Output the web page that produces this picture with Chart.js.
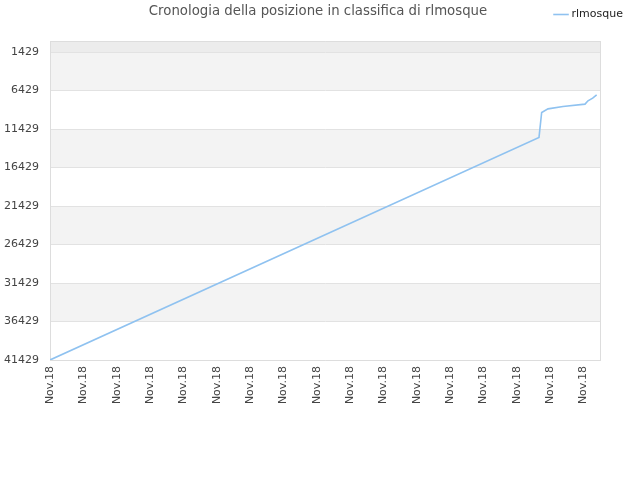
<!DOCTYPE html>
<html>
<head>
<meta charset="utf-8">
<script src="https://cdn.jsdelivr.net/npm/chart.js@4/dist/chart.umd.min.js"></script>
<style>
  html, body { margin: 0; padding: 0; background: #fff; }
  #wrap { width: 640px; height: 480px; }
</style>
</head>
<body>
<div id="wrap"><canvas id="chart" width="640" height="480"></canvas></div>
<script>
var chartTitle = "Cronologia della posizione in classifica di rlmosque";
var seriesName = "rlmosque";

// position along the time axis (one unit = half a label step) and rank
var timePos = [0, 29.34, 29.5, 29.88, 30.78, 32.1, 32.28, 32.56, 32.8];
var ranks = [41429, 12520, 9290, 8810, 8510, 8200, 7770, 7420, 6990];

var yTicks = [1429, 6429, 11429, 16429, 21429, 26429, 31429, 36429, 41429];
var xTickLabels = ["Nov.18", "Nov.18", "Nov.18", "Nov.18", "Nov.18", "Nov.18",
  "Nov.18", "Nov.18", "Nov.18", "Nov.18", "Nov.18", "Nov.18", "Nov.18",
  "Nov.18", "Nov.18", "Nov.18", "Nov.18"];

var points = timePos.map(function (x, i) {
  return { x: x, y: ranks[i] };
});

// grey bands between every other pair of ticks, plus title text
var bandsPlugin = {
  id: 'bands',
  beforeDraw: function (chart) {
    var ctx = chart.ctx;
    var area = chart.chartArea;
    var y = chart.scales.y;
    ctx.save();
    // strip above the first tick
    var first = y.getPixelForValue(yTicks[0]);
    ctx.fillStyle = '#ececec';
    ctx.fillRect(area.left, area.top, area.right - area.left, first - area.top);
    for (var i = 0; i < yTicks.length - 1; i += 2) {
      var a = y.getPixelForValue(yTicks[i]);
      var b = y.getPixelForValue(yTicks[i + 1]);
      ctx.fillStyle = '#f3f3f3';
      ctx.fillRect(area.left, a, area.right - area.left, b - a);
    }
    ctx.restore();
  },
  afterDraw: function (chart) {
    var ctx = chart.ctx;
    ctx.save();
    ctx.font = '13.3px "DejaVu Sans"';
    ctx.fillStyle = '#555';
    ctx.textAlign = 'center';
    ctx.textBaseline = 'middle';
    ctx.fillText(chartTitle, 318, 12);
    ctx.restore();
  }
};

var chart = new Chart('chart', {
  type: 'line',
  data: {
    datasets: [
      {
        label: seriesName,
        data: points,
        borderColor: '#8fc2f0',
        backgroundColor: '#8fc2f0',
        borderWidth: 1.6,
        pointRadius: 0,
        fill: false,
        tension: 0
      }
    ]
  },
  plugins: [bandsPlugin],
  options: {
    responsive: false,
    animation: false,
    devicePixelRatio: 1,
    layout: {
      padding: { left: 0, right: 8, top: 0, bottom: 0 }
    },
    plugins: {
      legend: {
        display: true,
        position: 'top',
        align: 'end',
        labels: {
          usePointStyle: true,
          pointStyle: 'line',
          boxWidth: 10,
          padding: 9,
          color: '#222',
          font: { family: 'DejaVu Sans', size: 11 }
        }
      },
      tooltip: { enabled: false }
    },
    scales: {
      x: {
        type: 'linear',
        min: 0,
        max: 33,
        afterBuildTicks: function (scale) {
          scale.ticks = xTickLabels.map(function (t, i) {
            return { value: i * 2 };
          });
        },
        afterFit: function (scale) {
          scale.height = 120;
        },
        grid: {
          drawOnChartArea: false,
          drawTicks: false,
          color: '#dddddd'
        },
        border: { color: '#dddddd' },
        ticks: {
          autoSkip: false,
          minRotation: 90,
          maxRotation: 90,
          padding: 6,
          color: '#444',
          font: { family: 'DejaVu Sans', size: 11 },
          callback: function (value) {
            return xTickLabels[Math.round(value / 2)];
          }
        }
      },
      y: {
        reverse: true,
        min: 0,
        max: 41429,
        afterBuildTicks: function (scale) {
          scale.ticks = yTicks.map(function (v) {
            return { value: v };
          });
        },
        afterFit: function (scale) {
          scale.width = 50;
        },
        grid: {
          color: '#e2e2e2',
          drawTicks: false
        },
        border: { color: '#dddddd' },
        ticks: {
          padding: 11,
          color: '#444',
          font: { family: 'DejaVu Sans', size: 11 },
          callback: function (value) {
            return String(value);
          }
        }
      },
      x2: {
        type: 'linear',
        position: 'top',
        display: true,
        min: 0,
        max: 33,
        afterFit: function (scale) {
          scale.height = 11;
        },
        grid: { display: false, drawTicks: false },
        border: { color: '#dddddd' },
        ticks: { display: false }
      },
      y2: {
        position: 'right',
        display: true,
        afterFit: function (scale) {
          scale.width = 32;
        },
        grid: { display: false, drawTicks: false },
        border: { color: '#dddddd' },
        ticks: { display: false }
      }
    }
  }
});
</script>
</body>
</html>
